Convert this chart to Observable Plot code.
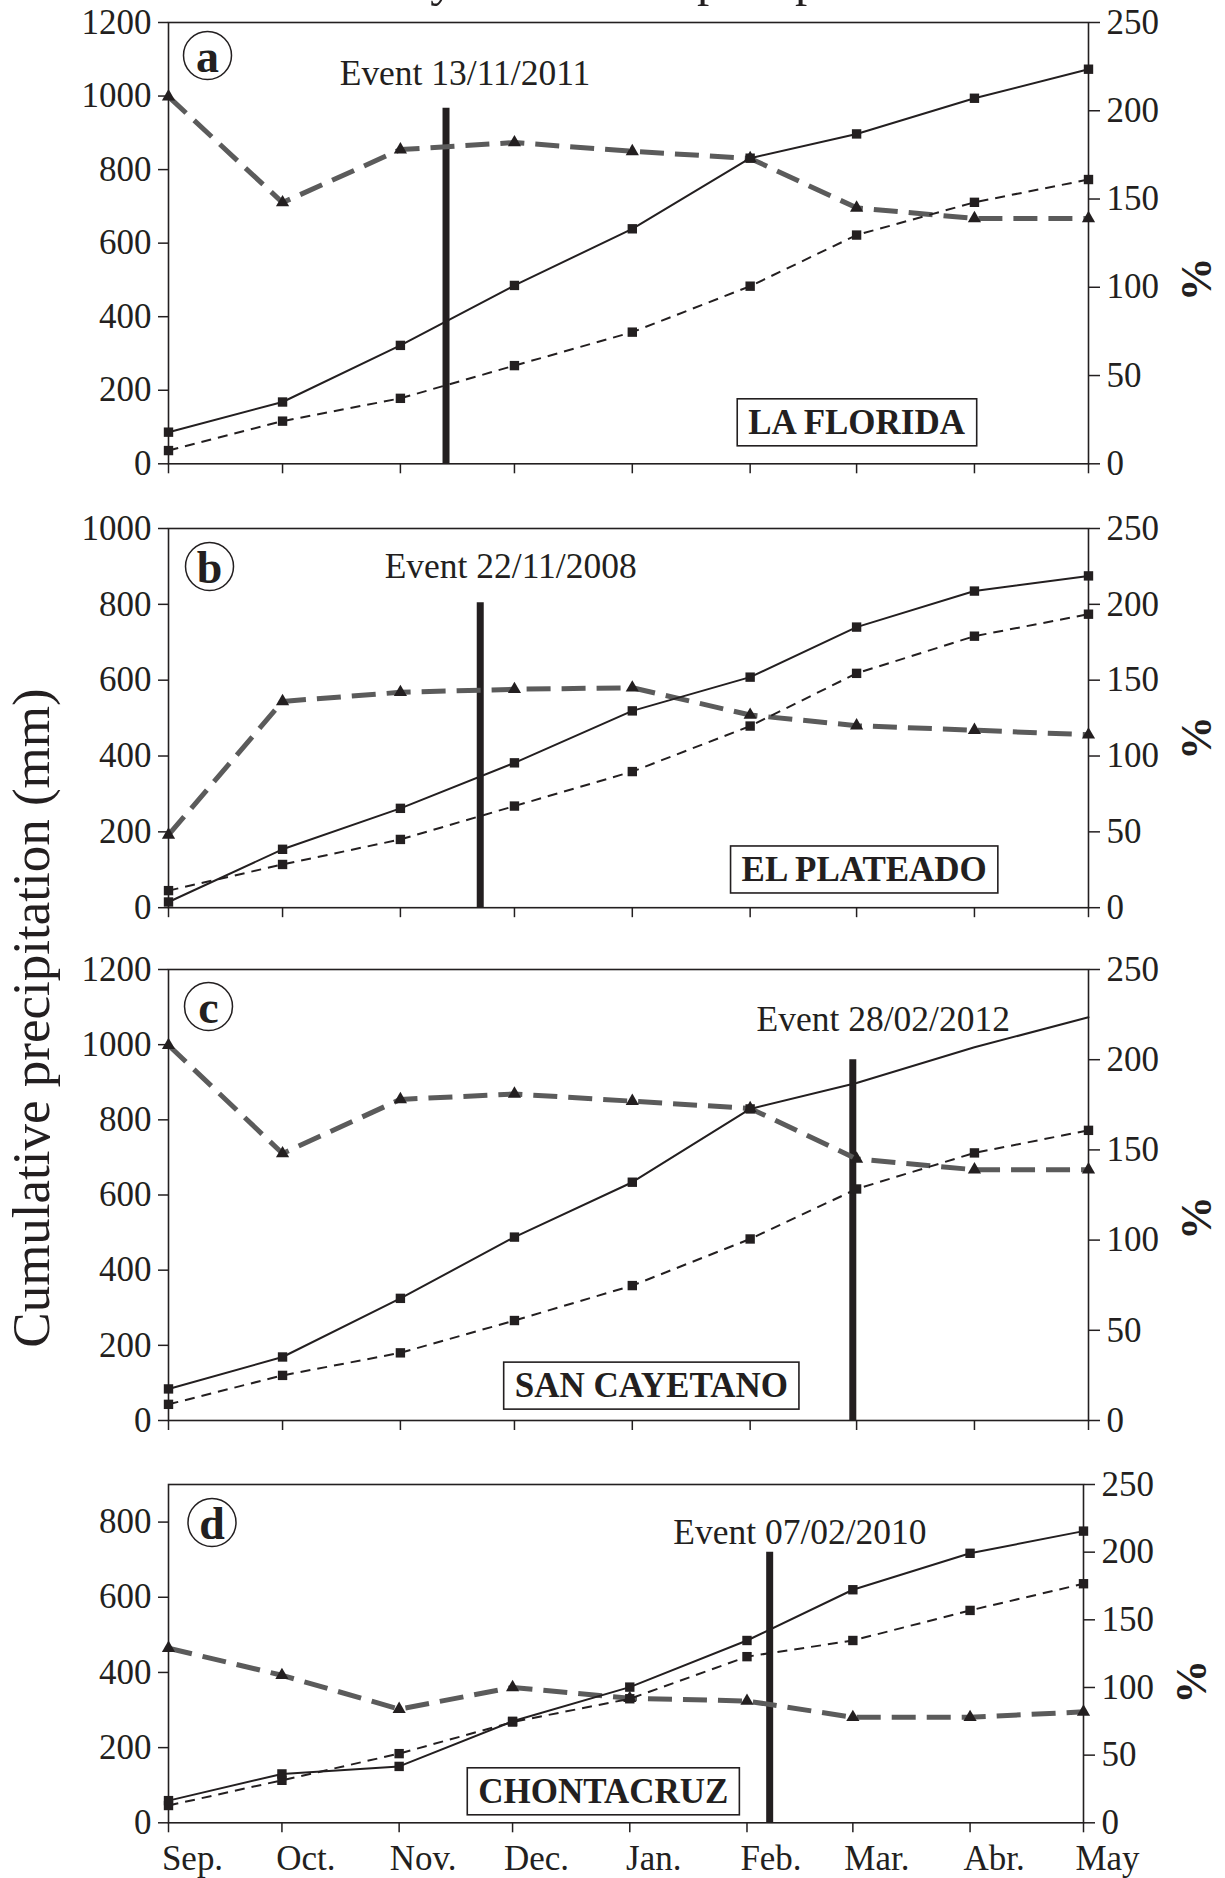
<!DOCTYPE html>
<html>
<head>
<meta charset="utf-8">
<script src="https://cdn.jsdelivr.net/npm/d3@7"></script>
<script src="https://cdn.jsdelivr.net/npm/@observablehq/plot@0.6"></script>
<style>
  html, body { margin: 0; padding: 0; background: #fff; }
  #root { position: relative; width: 1225px; height: 1878px; overflow: hidden; background: #fff;
          font-family: "Liberation Serif", "Times New Roman", serif; color: #231f20; }
  #root svg.panel { position: absolute; left: 0; overflow: visible; }
  #overlay { position: absolute; left: 0; top: 0; overflow: visible; pointer-events: none; }
</style>
</head>
<body>
<div id="root"></div>
<script>
// ---------------- data ----------------
const months = ["Sep.", "Oct.", "Nov.", "Dec.", "Jan.", "Feb.", "Mar.", "Abr.", "May"];
// month starts on a common Sep–May season axis
const monthStarts = ["2010-09-01", "2010-10-01", "2010-11-01", "2010-12-01", "2011-01-01",
                     "2011-02-01", "2011-03-01", "2011-04-01", "2011-05-01"];
const panelLetters = ["a", "b", "c", "d"];
const stations = ["LA FLORIDA", "EL PLATEADO", "SAN CAYETANO", "CHONTACRUZ"];
const eventLabels = ["Event 13/11/2011", "Event 22/11/2008", "Event 28/02/2012", "Event 07/02/2010"];
const eventDays = ["2010-11-13", "2010-11-22", "2011-02-28", "2011-02-07"]; // day/month on the season axis
const eventTops = [967, 804, 960, 720];           // mm, top of the event bar
const leftMax = [1200, 1000, 1200, 900];         // mm
const leftTickStep = 200;
const pctTicks = [0, 50, 100, 150, 200, 250];
const pctMax = 250;

// cumulative precipitation of the event year (solid, mm)
const solidA = [86, 168, 322, 485, 639, 831, 897, 994, 1073];
const solidB = [15, 154, 262, 382, 519, 608, 740, 835, 875];
const solidC = [84, 169, 325, 488, 634, 829, 898, 993, 1073];
const solidD = [59, 130, 150, 270, 361, 485, 620, 717, 776];
// mean cumulative precipitation (thin dashed, mm)
const meanA = [36, 116, 178, 267, 358, 483, 622, 711, 773];
const meanB = [45, 114, 180, 268, 359, 479, 618, 716, 774];
const meanC = [43, 120, 180, 266, 359, 483, 616, 712, 772];
const meanD = [46, 113, 184, 268, 330, 442, 485, 565, 636];
// percentage (grey dashed, right axis %)
const pctA = [208, 148, 178, 182, 177, 173, 145, 139, 139];
const pctB = [48, 136, 142, 144, 145, 127, 120, 117, 114];
const pctC = [208, 148, 178, 181, 177, 173, 145, 139, 139];
const pctD = [129, 109, 84, 100, 92, 90, 78, 78, 82];
const solidMarked = [9, 9, 6, 9];   // how many solid points carry a marker

const solidSeries = [solidA, solidB, solidC, solidD];
const meanSeries = [meanA, meanB, meanC, meanD];
const pctSeries = [pctA, pctB, pctC, pctD];

// annotation anchors (season date, mm)
const eventLabelDates = ["2010-11-18", "2010-11-30", "2011-03-08", "2011-02-15"];
const eventLabelLevels = [1061, 899, 1067, 773];
const stationDates = ["2011-03-01", "2011-03-03", "2011-01-06", "2010-12-25"];
const stationLevels = [112, 100, 92, 83];

// ---------------- layout / style ----------------
const layout = {
  frameTop: [22, 527.5, 969, 1484],
  frameBottom: [463.3, 906.7, 1420, 1822.3],
  marginLeft: 168,
  marginRight: [137, 137, 137, 142],
  letterDx: [39, 41, 40, 43.5],
  letterDy: [33, 38, 37, 38],
  pctDy: [14, -2, 1, 6]
};
const ink = "#231f20";
const grey = "#5b5b5b";
const FONT = '"Liberation Serif", "Times New Roman", serif';
const MT = 30, MB = 62;

const parse = d3.utcParse("%Y-%m-%d");
const xDates = monthStarts.map(parse);
const root = document.getElementById("root");

for (let i = 0; i < 4; i++) {
  const top = layout.frameTop[i], bottom = layout.frameBottom[i];
  const h = MT + (bottom - top) + MB;
  const ymax = leftMax[i];
  const k = ymax / pctMax;
  const rows = xDates.map((d, j) => ({
    date: d, j,
    solid: solidSeries[i][j],
    mean: meanSeries[i][j],
    pct: pctSeries[i][j] * k
  }));
  const ev = [{
    date: parse(eventDays[i]), top: eventTops[i], label: eventLabels[i],
    ldate: parse(eventLabelDates[i]), ly: eventLabelLevels[i]
  }];
  const st = [{ name: stations[i], sdate: parse(stationDates[i]), sy: stationLevels[i] }];
  const leftTicks = d3.range(0, ymax + 1, leftTickStep);
  const isLast = i === 3;

  const marks = [
    Plot.frame({ stroke: ink, strokeWidth: 1.6 }),
    Plot.axisY({ ticks: leftTicks, tickSize: 10, tickPadding: 7, label: null,
                 strokeWidth: 1.5, fontSize: 35, tickFormat: d => String(d) }),
    Plot.axisY({ anchor: "right", ticks: pctTicks.map(v => v * k), tickSize: 11, tickPadding: 7,
                 label: null, strokeWidth: 1.5, fontSize: 35,
                 tickFormat: d => String(Math.round(d / k)) }),
    // tick marks at the month starts
    Plot.axisX({ ticks: xDates, tickSize: 10, label: null, strokeWidth: 1.5, tickFormat: () => "" })
  ];
  if (isLast) {
    // month names, set slightly right of their ticks as in the original
    marks.push(Plot.axisX({ ticks: xDates, tickSize: 0, tickPadding: 22, label: null, fontSize: 35,
                            textAnchor: "middle", dx: 24,
                            tickFormat: d => months[xDates.findIndex(x => +x === +d)] }));
  }
  marks.push(
    Plot.ruleX(ev, { x: "date", y1: () => 0, y2: "top", stroke: ink, strokeWidth: 7 }),
    Plot.line(rows, { x: "date", y: "pct", stroke: grey, strokeWidth: 5,
                      strokeDasharray: "24,11", strokeLinecap: "butt", strokeLinejoin: "miter" }),
    Plot.line(rows, { x: "date", y: "mean", stroke: ink, strokeWidth: 2,
                      strokeDasharray: "10,7", strokeLinecap: "butt" }),
    Plot.line(rows, { x: "date", y: "solid", stroke: ink, strokeWidth: 2 }),
    Plot.dot(rows, { x: "date", y: "pct", symbol: "triangle", fill: ink, r: 4.9 }),
    Plot.dot(rows, { x: "date", y: "mean", symbol: "square", fill: ink, r: 5.3 }),
    Plot.dot(rows.filter(r => r.j < solidMarked[i]), { x: "date", y: "solid", symbol: "square", fill: ink, r: 5.3 }),
    Plot.text(ev, { x: "ldate", y: "ly", text: "label", fontSize: 35.5, fill: ink }),
    Plot.text(st, { x: "sdate", y: "sy", text: "name", fontSize: 35, fontWeight: "bold", fill: ink }),
    Plot.dot([panelLetters[i]], { x: () => xDates[0], y: () => ymax, r: 24, fill: "white", stroke: ink,
                                   strokeWidth: 1.5, dx: layout.letterDx[i], dy: layout.letterDy[i] }),
    Plot.text([panelLetters[i]], { x: () => xDates[0], y: () => ymax, text: d => d, fontSize: 46,
                                    fontWeight: "bold", fill: ink, dx: layout.letterDx[i], dy: layout.letterDy[i] + 2 }),
    Plot.text(["%"], { frameAnchor: "right", text: d => d, rotate: -90, fontSize: 44, fontWeight: "bold",
                       fill: ink, dx: 108, dy: layout.pctDy[i] })
  );

  const chart = Plot.plot({
    width: 1225,
    height: h,
    marginTop: MT,
    marginBottom: MB,
    marginLeft: layout.marginLeft,
    marginRight: layout.marginRight[i],
    x: { type: "utc", domain: [xDates[0], xDates[xDates.length - 1]], label: null },
    y: { domain: [0, ymax], label: null },
    style: { fontFamily: FONT, fontSize: "35px", color: ink, background: "transparent", overflow: "visible" },
    marks
  });
  chart.classList.add("panel");
  chart.style.top = (top - MT) + "px";
  root.appendChild(chart);

  // box round the station name
  chart.querySelectorAll("text").forEach(t => {
    if (t.textContent === stations[i]) {
      const bb = t.getBBox();
      const padX = 11, padY = 4;
      const ns = "http://www.w3.org/2000/svg";
      const rect = document.createElementNS(ns, "rect");
      rect.setAttribute("x", bb.x - padX);
      rect.setAttribute("y", bb.y - padY);
      rect.setAttribute("width", bb.width + 2 * padX);
      rect.setAttribute("height", bb.height + 2 * padY);
      rect.setAttribute("fill", "white");
      rect.setAttribute("stroke", ink);
      rect.setAttribute("stroke-width", "1.6");
      const tr = t.getAttribute("transform");
      if (tr) rect.setAttribute("transform", tr);
      t.parentNode.insertBefore(rect, t);
    }
  });
}

// overlay: shared y-axis title and the (cropped) figure title
const overlay = d3.select(root).append("svg")
  .attr("id", "overlay").attr("width", 1225).attr("height", 1878);
overlay.append("text")
  .attr("transform", "translate(49,1018) rotate(-90)")
  .attr("text-anchor", "middle")
  .attr("font-family", FONT).attr("font-size", 53).attr("fill", ink)
  .text("Cumulative precipitation (mm)");
overlay.append("text")
  .attr("x", 286).attr("y", -3.6)
  .attr("font-family", FONT).attr("font-size", 49).attr("fill", ink)
  .text("Monthly cumulative precipitation");
</script>
</body>
</html>
